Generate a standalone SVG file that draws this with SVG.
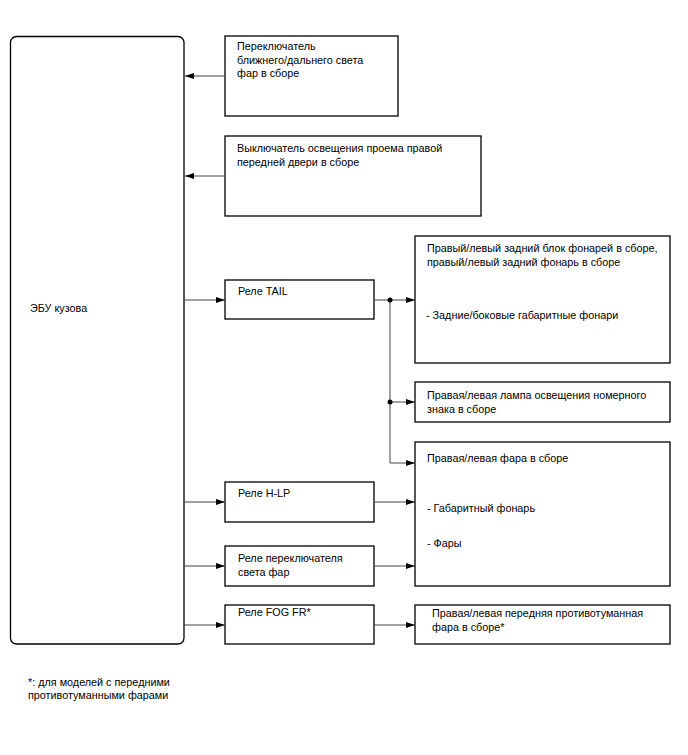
<svg xmlns="http://www.w3.org/2000/svg" width="688" height="755" viewBox="0 0 688 755">
<style>
.box{fill:#fff;stroke:#000;stroke-width:1.3}
.ln{fill:none;stroke:#444;stroke-width:1}
text{font-family:"Liberation Sans",Arial,sans-serif;font-size:10.8px;fill:#000}
</style>
<defs>
<marker id="ah" markerWidth="10" markerHeight="8" refX="9" refY="3" orient="auto" markerUnits="userSpaceOnUse">
<path d="M0,0 L9,3 L0,6 Z" fill="#000"/>
</marker>
</defs>
<rect width="688" height="755" fill="#fff"/>
<g id="ecu"><rect class="box" x="10.5" y="36.5" width="173.5" height="607.5" rx="6"/><text x="30" y="312">ЭБУ кузова</text></g>
<g id="n1"><rect class="box" x="225" y="36" width="173" height="80"/><text x="237" y="50">Переключатель</text><text x="237" y="63.5">ближнего/дальнего света</text><text x="237" y="77">фар в сборе</text></g>
<g id="n2"><rect class="box" x="225" y="136" width="256" height="80"/><text x="237" y="152">Выключатель освещения проема правой</text><text x="237" y="166">передней двери в сборе</text></g>
<g id="n3"><rect class="box" x="225" y="280" width="149" height="39"/><text x="238" y="294.5">Реле TAIL</text></g>
<g id="n4"><rect class="box" x="415" y="236" width="255" height="127"/><text x="427" y="252">Правый/левый задний блок фонарей в сборе,</text><text x="427" y="266">правый/левый задний фонарь в сборе</text><text x="426" y="319">- Задние/боковые габаритные фонари</text></g>
<g id="n5"><rect class="box" x="415" y="382" width="255" height="40"/><text x="427" y="399">Правая/левая лампа освещения номерного</text><text x="427" y="412.5">знака в сборе</text></g>
<g id="n6"><rect class="box" x="415" y="442" width="255" height="144"/><text x="427" y="462">Правая/левая фара в сборе</text><text x="427" y="512">- Габаритный фонарь</text><text x="427" y="547">- Фары</text></g>
<g id="n7"><rect class="box" x="225" y="482" width="149" height="40"/><text x="238" y="497">Реле H-LP</text></g>
<g id="n8"><rect class="box" x="225" y="546" width="149" height="40"/><text x="238" y="562">Реле переключателя</text><text x="238" y="576">света фар</text></g>
<g id="n9"><rect class="box" x="225" y="605" width="149" height="39"/><text x="238" y="616">Реле FOG FR*</text></g>
<g id="n10"><rect class="box" x="415" y="605" width="255" height="39"/><text x="432" y="617">Правая/левая передняя противотуманная</text><text x="432" y="631">фара в сборе*</text></g>
<g id="connectors">
<line class="ln" x1="225" y1="76" x2="185" y2="76" marker-end="url(#ah)"/>
<line class="ln" x1="225" y1="176" x2="185" y2="176" marker-end="url(#ah)"/>
<line class="ln" x1="184" y1="300" x2="225" y2="300" marker-end="url(#ah)"/>
<line class="ln" x1="374" y1="300" x2="415" y2="300" marker-end="url(#ah)"/>
<polyline class="ln" points="390,300 390,463 415,463" marker-end="url(#ah)"/>
<line class="ln" x1="390" y1="402" x2="415" y2="402" marker-end="url(#ah)"/>
<circle cx="390" cy="300" r="2.5" fill="#000"/>
<circle cx="390" cy="402" r="2.5" fill="#000"/>
<line class="ln" x1="184" y1="502" x2="225" y2="502" marker-end="url(#ah)"/>
<line class="ln" x1="374" y1="502" x2="415" y2="502" marker-end="url(#ah)"/>
<line class="ln" x1="184" y1="566" x2="225" y2="566" marker-end="url(#ah)"/>
<line class="ln" x1="374" y1="566" x2="415" y2="566" marker-end="url(#ah)"/>
<line class="ln" x1="184" y1="625" x2="225" y2="625" marker-end="url(#ah)"/>
<line class="ln" x1="374" y1="625" x2="415" y2="625" marker-end="url(#ah)"/>
</g>
<g id="footnote"><text x="28" y="686">*: для моделей с передними</text><text x="28" y="699">противотуманными фарами</text></g>
</svg>
